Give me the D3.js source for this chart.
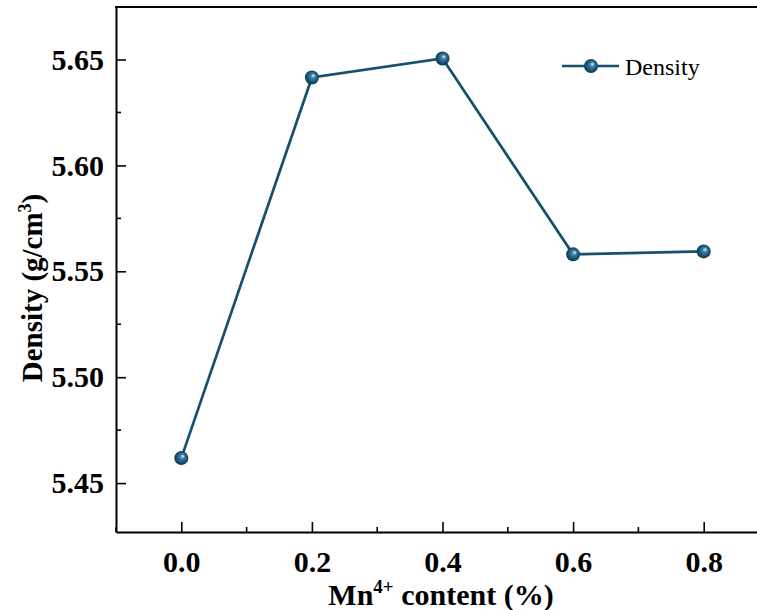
<!DOCTYPE html>
<html>
<head>
<meta charset="utf-8">
<script src="https://cdn.jsdelivr.net/npm/d3@7"></script>
<style>
  body { margin: 0; background: #fff; }
  svg { display: block; }
  svg text { font-family: "Liberation Serif", "Times New Roman", serif; }
</style>
</head>
<body>
<div class="canvas"></div>
<script>
// data
const mnContent = [0.0, 0.2, 0.4, 0.6, 0.8]
const density = [5.4618, 5.6415, 5.6505, 5.558, 5.5594]
const xTicks = [0.0, 0.2, 0.4, 0.6, 0.8]
const yTicks = [5.45, 5.50, 5.55, 5.60, 5.65]
const seriesName = 'Density'

const W = 757, H = 610
const margin = {top: 7, right: -12, bottom: 78, left: 116}

const svg = d3.select('.canvas').append('svg')
  .attr('width', W)
  .attr('height', H)

const x = d3.scaleLinear()
  .domain([-0.1, 0.9])
  .range([margin.left, W - margin.right])

const y = d3.scaleLinear()
  .domain([5.4269, 5.6748])
  .range([H - margin.bottom, margin.top])

const col = '#16506f'

// sphere look for markers
const defs = svg.append('defs')
const grad = defs.append('radialGradient')
  .attr('id', 'ball')
  .attr('cx', '0.5').attr('cy', '0.5').attr('r', '0.55')
  .attr('fx', '0.62').attr('fy', '0.35')
grad.append('stop').attr('offset', '0%').attr('stop-color', '#e6f0f6')
grad.append('stop').attr('offset', '30%').attr('stop-color', '#3c7ea4')
grad.append('stop').attr('offset', '75%').attr('stop-color', '#134a69')
grad.append('stop').attr('offset', '100%').attr('stop-color', '#0b3048')

//axes, ticks inside
const xAxis = svg.append('g')
  .attr('transform', `translate(0, ${H - margin.bottom})`)
  .call(d3.axisBottom(x).tickValues(xTicks).tickSizeInner(-10).tickSizeOuter(0)
    .tickFormat(d3.format('.1f')).tickPadding(19))
xAxis.append('g').attr('class', 'minor').selectAll('line')
  .data([-0.1, 0.1, 0.3, 0.5, 0.7, 0.9])
  .enter().append('line')
  .attr('x1', d => x(d)).attr('x2', d => x(d))
  .attr('y1', 0).attr('y2', -5)

const yAxis = svg.append('g')
  .attr('transform', `translate(${margin.left}, 0)`)
  .call(d3.axisLeft(y).tickValues(yTicks).tickSizeInner(-10).tickSizeOuter(0)
    .tickFormat(d3.format('.2f')).tickPadding(12))
yAxis.append('g').attr('class', 'minor').selectAll('line')
  .data([5.475, 5.525, 5.575, 5.625])
  .enter().append('line')
  .attr('x1', 0).attr('x2', 5)
  .attr('y1', d => y(d)).attr('y2', d => y(d))

// top frame line
svg.append('line')
  .attr('x1', margin.left - 1).attr('x2', W)
  .attr('y1', margin.top).attr('y2', margin.top)
  .attr('stroke', '#000').attr('stroke-width', 2)

svg.selectAll('.domain').attr('stroke-width', 2).attr('stroke', '#000')
svg.selectAll('.tick line').attr('stroke-width', 1.6).attr('stroke', '#000')
svg.selectAll('.minor line').attr('stroke', '#000').attr('stroke-width', 1.6)
svg.selectAll('.tick text')
  .style('font-family', '"Liberation Serif", "Times New Roman", serif')
  .attr('font-weight', 'bold')
  .attr('font-size', 30)
  .attr('fill', '#000')

// axis titles
svg.append('text')
  .attr('x', 441).attr('y', 605)
  .attr('text-anchor', 'middle')
  .attr('font-weight', 'bold').attr('font-size', 30)
  .call(t => {
    t.append('tspan').text('Mn')
    t.append('tspan').attr('dy', -12).attr('font-size', 19).text('4+')
    t.append('tspan').attr('dy', 12).text(' content (%)')
  })

svg.append('text')
  .attr('transform', 'translate(42, 288) rotate(-90)')
  .attr('text-anchor', 'middle')
  .attr('font-weight', 'bold').attr('font-size', 29)
  .call(t => {
    t.append('tspan').text('Density (g/cm')
    t.append('tspan').attr('dy', -11).attr('font-size', 18).text('3')
    t.append('tspan').attr('dy', 11).text(')')
  })

// line + markers
const pts = mnContent.map((d, i) => ({x: d, y: density[i]}))
const line = d3.line().x(d => x(d.x)).y(d => y(d.y))

svg.append('path')
  .datum(pts)
  .attr('d', line)
  .attr('fill', 'none')
  .attr('stroke', col)
  .attr('stroke-width', 2.7)

svg.selectAll('circle.pt')
  .data(pts)
  .enter().append('circle')
  .attr('class', 'pt')
  .attr('cx', d => x(d.x))
  .attr('cy', d => y(d.y))
  .attr('r', 7)
  .attr('fill', 'url(#ball)')

// legend
const lg = svg.append('g').attr('transform', 'translate(562, 66)')
lg.append('line')
  .attr('x1', 0).attr('x2', 57)
  .attr('stroke', col).attr('stroke-width', 2.7)
lg.append('circle')
  .attr('cx', 29).attr('r', 7).attr('fill', 'url(#ball)')
lg.append('text')
  .attr('x', 63).attr('y', 9)
  .attr('font-size', 24)
  .text(seriesName)
</script>
</body>
</html>
